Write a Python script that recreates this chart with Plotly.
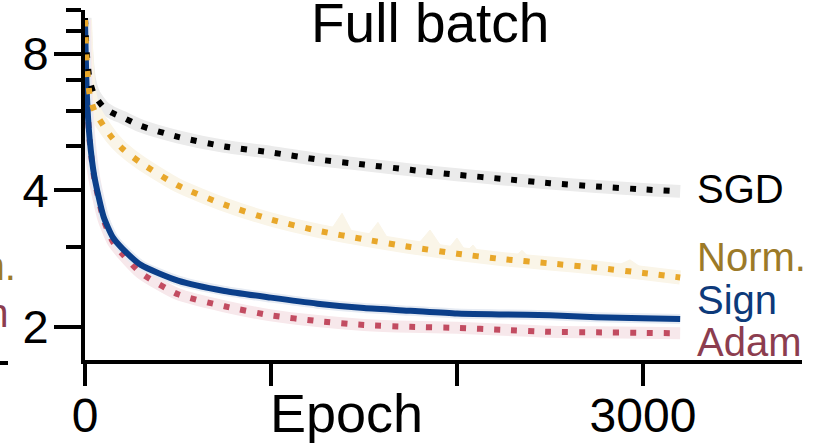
import numpy as np
import plotly.graph_objects as go

# ---- data ----
epochs = [0, 10, 25, 50, 100, 150, 200, 300, 500, 750, 1000, 1250, 1500, 1750,
          2000, 2250, 2500, 2750, 3000, 3200]
sgd = [9.6, 8.0, 7.0, 6.5, 6.1, 5.92, 5.8, 5.55, 5.25, 5.0, 4.85, 4.68, 4.56, 4.44,
       4.33, 4.24, 4.15, 4.08, 4.02, 3.98]
norm = [9.5, 7.6, 6.5, 6.0, 5.55, 5.2, 4.95, 4.6, 4.1, 3.72, 3.45, 3.26, 3.12, 3.0,
        2.9, 2.82, 2.76, 2.7, 2.63, 2.57]
sign = [9.5, 6.5, 5.2, 4.3, 3.5, 3.15, 2.98, 2.74, 2.53, 2.40, 2.32, 2.25, 2.2, 2.17,
        2.14, 2.13, 2.12, 2.10, 2.09, 2.08]
adam = [9.5, 6.45, 5.15, 4.25, 3.45, 3.08, 2.9, 2.63, 2.36, 2.22, 2.12, 2.06, 2.02, 2.0,
        1.99, 1.97, 1.95, 1.945, 1.94, 1.935]

# spikes in the upper variability band of Norm.
norm_spike_epochs = [1382, 1575, 1855, 2000, 2086, 2350, 2930]
norm_spike_tops = [3.56, 3.40, 3.27, 3.14, 3.03, 2.95, 2.81]
norm_spike_halfwidth = [70, 70, 80, 60, 50, 60, 110]

x_tickvals = [0, 1000, 2000, 3000]
x_ticktext = ["0", "", "", "3000"]
y_tickvals = [2, 4, 8]
y_minor_tickvals = [3, 5, 6, 7, 9, 10]

series_labels = ["SGD", "Norm.", "Sign", "Adam"]

# ---- styles ----
FONT = "Liberation Sans, Arial, Helvetica, sans-serif"
C_SGD, C_NORM, C_SIGN, C_ADAM = "#000000", "#E8A72A", "#0B3F8A", "#C24C61"
L_SGD, L_NORM, L_SIGN, L_ADAM = "#000000", "#9C7A28", "#0D3A7A", "#8C3D4F"
B_SGD, B_NORM, B_SIGN, B_ADAM = "#EBEBEB", "#FAF5E8", "#E6EBF3", "#F7E8EB"
DOT = "6px,11px"

fig = go.Figure()

# variability bands (drawn as wide pale strokes)
for ys, col, w in [(sgd, B_SGD, 13), (norm, B_NORM, 14), (adam, B_ADAM, 12), (sign, B_SIGN, 10)]:
    fig.add_trace(go.Scatter(x=epochs, y=ys, mode="lines",
                             line=dict(color=col, width=w, shape="spline", smoothing=0.6),
                             hoverinfo="skip", showlegend=False))

# spikes of the Norm. band
log_norm = np.log10(norm)
for e, top, hw in zip(norm_spike_epochs, norm_spike_tops, norm_spike_halfwidth):
    x0, x1 = e - hw, e + hw
    b0 = 10 ** np.interp(x0, epochs, log_norm)
    b1 = 10 ** np.interp(x1, epochs, log_norm)
    fig.add_trace(go.Scatter(x=[x0, e, x1, x0], y=[b0, top, b1, b0], mode="lines",
                             fill="toself", fillcolor=B_NORM,
                             line=dict(color=B_NORM, width=1), hoverinfo="skip",
                             showlegend=False))

# main curves (bottom to top)
fig.add_trace(go.Scatter(x=epochs, y=adam, mode="lines", name="Adam",
                         line=dict(color=C_ADAM, width=6, dash=DOT, shape="spline", smoothing=0.6)))
fig.add_trace(go.Scatter(x=epochs, y=sign, mode="lines", name="Sign",
                         line=dict(color=C_SIGN, width=6, shape="spline", smoothing=0.6)))
fig.add_trace(go.Scatter(x=epochs, y=sgd, mode="lines", name="SGD",
                         line=dict(color=C_SGD, width=6, dash=DOT, shape="spline", smoothing=0.6)))
fig.add_trace(go.Scatter(x=epochs, y=norm, mode="lines", name="Norm.",
                         line=dict(color=C_NORM, width=6, dash=DOT, shape="spline", smoothing=0.6)))

L, R, T, B = 85, 14, 10, 85
W, H = 816, 445
pw, ph = W - L - R, H - T - B

def px(xp):
    return (xp - L) / pw

def py(yp):
    return (T + ph - yp) / ph

ann = []
# title
ann.append(dict(text="Full batch", x=px(430), y=py(23), xref="paper", yref="paper",
                xanchor="center", yanchor="middle", showarrow=False,
                font=dict(family=FONT, size=55, color="black")))
# x axis title
ann.append(dict(text="Epoch", x=px(346), y=py(413), xref="paper", yref="paper",
                xanchor="center", yanchor="middle", showarrow=False,
                font=dict(family=FONT, size=54, color="black")))
# right-side series labels
for txt, col, yc in zip(series_labels, [L_SGD, L_NORM, L_SIGN, L_ADAM], [189, 257, 300, 342]):
    ann.append(dict(text=txt, x=px(695), y=py(yc), xref="paper", yref="paper",
                    xanchor="left", yanchor="middle", showarrow=False,
                    font=dict(family=FONT, size=40, color=col)))
# clipped labels of the neighbouring panel on the left
for txt, col, xr, yc in [("Norm.", L_NORM, 18, 266), ("Adam", L_ADAM, 11, 313)]:
    ann.append(dict(text=txt, x=px(xr), y=py(yc), xref="paper", yref="paper",
                    xanchor="right", yanchor="middle", showarrow=False,
                    font=dict(family=FONT, size=40, color=col)))

fig.update_layout(
    width=W, height=H,
    margin=dict(l=L, r=R, t=T, b=B, pad=0, autoexpand=False),
    paper_bgcolor="white", plot_bgcolor="white",
    showlegend=False,
    annotations=ann,
    shapes=[dict(type="line", xref="paper", yref="paper",
                 x0=px(-10), x1=px(8), y0=py(363), y1=py(363),
                 line=dict(color="black", width=4))],
    xaxis=dict(range=[0, 3855], showgrid=False, zeroline=False, automargin=False,
               showline=True, linecolor="black", linewidth=4,
               ticks="outside", ticklen=22, tickwidth=4, tickcolor="black",
               ticklabelstandoff=-12,
               tickmode="array", tickvals=x_tickvals, ticktext=x_ticktext,
               tickfont=dict(family=FONT, size=48, color="black")),
    yaxis=dict(type="log", range=[np.log10(1.69), 1.0], showgrid=False, zeroline=False,
               automargin=False,
               showline=True, linecolor="black", linewidth=4,
               ticks="outside", ticklen=27, tickwidth=4, tickcolor="black",
               ticklabelstandoff=-4,
               tickmode="array", tickvals=y_tickvals, ticktext=[str(v) for v in y_tickvals],
               tickfont=dict(family=FONT, size=47, color="black"),
               minor=dict(tickmode="array", tickvals=y_minor_tickvals, ticks="outside",
                          ticklen=15, tickwidth=4, tickcolor="black", showgrid=False)),
)

fig.write_html("out.html")
